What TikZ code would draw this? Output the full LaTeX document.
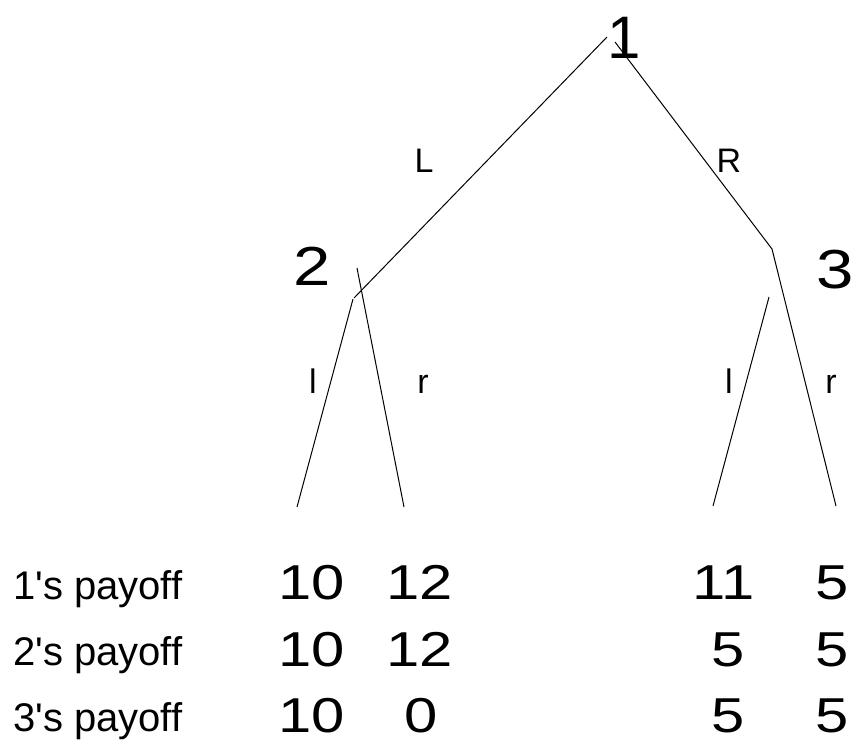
\documentclass[tikz,border=0pt]{standalone}
\usepackage{fontspec}
\setmainfont{Liberation Sans}
\newfontfamily\widefont[FakeStretch=1.22]{Liberation Sans}
\begin{document}
\begin{tikzpicture}[x=1pt,y=-1pt,
  edge/.style={line width=1pt,black},
  player/.style={inner sep=0pt,anchor=base,font=\widefont\fontsize{55}{60}\selectfont},
  move/.style={inner sep=0pt,anchor=base,font=\fontsize{34}{40}\selectfont},
  pay/.style={inner sep=0pt,anchor=base,font=\widefont\fontsize{49}{55}\selectfont},
  paylabel/.style={inner sep=0pt,anchor=base west,font=\fontsize{40}{45}\selectfont}]
\useasboundingbox (0,0) rectangle (853,740);
% players
\node[player,font=\fontsize{60}{66}\selectfont] (p1) at (624,58) {1};
\node[player] (p2) at (312,285) {2};
\node[player] (p3) at (835,288) {3};
% coordinates of the tree
\coordinate (t1L) at (607,37);
\coordinate (t1R) at (615,42);
\coordinate (a2) at (354,298);
\coordinate (a3) at (772,249);
\coordinate (b2r) at (357,268);
\coordinate (b2l) at (353,299);
\coordinate (b3l) at (769,297);
\coordinate (e1) at (297,507);
\coordinate (e2) at (404,507);
\coordinate (e3) at (713,506);
\coordinate (e4) at (836,506);
\draw[edge] (t1L) -- (a2);
\draw[edge] (t1R) -- (a3);
\draw[edge] (b2l) -- (e1);
\draw[edge] (b2r) -- (e2);
\draw[edge] (b3l) -- (e3);
\draw[edge] (a3) -- (e4);
% move labels
\node[move] (mL) at (424,172) {L};
\node[move] (mR) at (729,172) {R};
\node[move] (ml2) at (313,393) {l};
\node[move] (mr2) at (423,393) {r};
\node[move] (ml3) at (729,393) {l};
\node[move] (mr3) at (831,393) {r};
% payoff labels
\node[paylabel] (lab1) at (13,599) {1\textquotesingle s payoff};
\node[paylabel] (lab2) at (13,665) {2\textquotesingle s payoff};
\node[paylabel] (lab3) at (13,731) {3\textquotesingle s payoff};
% payoffs
\node[pay] (a11) at (312,599) {10};
\node[pay] (a12) at (420,599) {12};
\node[pay] (a13) at (724,599) {11};
\node[pay] (a14) at (832,599) {5};
\node[pay] (a21) at (312,666) {10};
\node[pay] (a22) at (420,666) {12};
\node[pay] (a23) at (728,666) {5};
\node[pay] (a24) at (832,666) {5};
\node[pay] (a31) at (312,732) {10};
\node[pay] (a32) at (421,732) {0};
\node[pay] (a33) at (728,732) {5};
\node[pay] (a34) at (832,732) {5};
\end{tikzpicture}
\end{document}
